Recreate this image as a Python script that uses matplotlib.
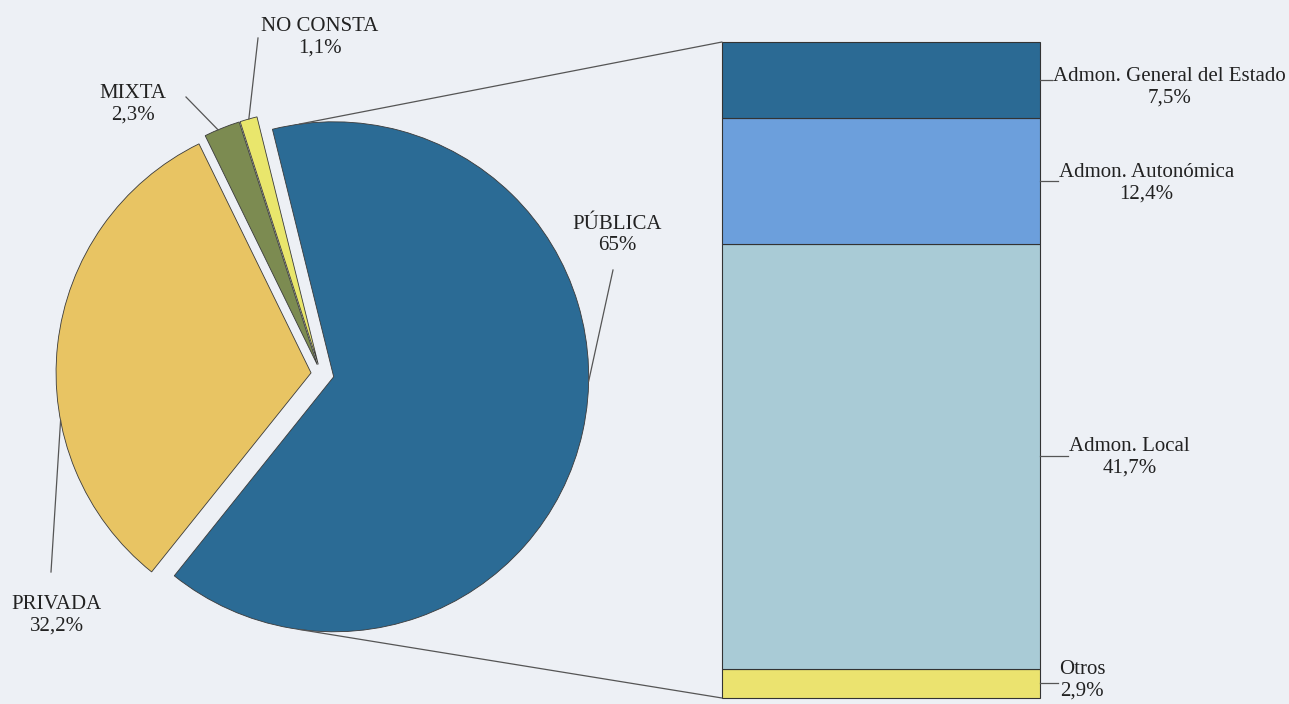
import numpy as np
import matplotlib.pyplot as plt
from matplotlib.patches import ConnectionPatch

plt.rcParams['font.family'] = ['Liberation Serif', 'DejaVu Serif']

# --- Datos: titularidad ---
sectores = ["PÚBLICA", "NO CONSTA", "MIXTA", "PRIVADA"]
pct_sector = [65, 1.1, 2.3, 32.2]
txt_sector = ["65%", "1,1%", "2,3%", "32,2%"]
colores_sector = ["#2b6b95", "#e9e66c", "#7c8b51", "#e8c463"]

# --- Datos: desglose de la pública (de abajo arriba) ---
admon = ["Otros", "Admon. Local", "Admon. Autonómica", "Admon. General del Estado"]
pct_admon = [2.9, 41.7, 12.4, 7.5]
txt_admon = ["2,9%", "41,7%", "12,4%", "7,5%"]
colores_admon = ["#ebe36f", "#a9cbd6", "#6c9fdc", "#2b6a94"]

fondo = "#edf0f5"
gris = "#555555"
W, H = 1289, 704
fs = 15

fig = plt.figure(figsize=(W / 100, H / 100), dpi=100, facecolor=fondo)
ax = fig.add_axes([0, 0, 1, 1])

# --- Tarta (explode en pixeles) ---
explode = [13, 10, 10, 10]
wedges, _ = ax.pie(pct_sector, colors=colores_sector, explode=explode,
                   center=(321, H - 374), radius=255, startangle=-128.7,
                   counterclock=True,
                   wedgeprops=dict(edgecolor="#3a3a3a", linewidth=0.6))
ax.set_xlim(0, W)
ax.set_ylim(0, H)
ax.set_aspect('equal', adjustable='box')
ax.axis('off')

# etiquetas de la tarta (posicion en pixeles, angulo de la guia, fin de la guia)
pos_txt = [(617, 235), (320, 37), (133, 104), (57, 615)]
ang_guia = [-1, 105.8, 112.9, 190.8]
fin_guia = [(613, 270), (258, 38), (186, 97), (51, 572)]
for w, nom, val, (tx, ty), a, (gx, gy) in zip(wedges, sectores, txt_sector,
                                              pos_txt, ang_guia, fin_guia):
    cx, cy = w.center
    px = cx + w.r * np.cos(np.radians(a))
    py = cy + w.r * np.sin(np.radians(a))
    ax.plot([px, gx], [py, H - gy], color=gris, lw=0.9)
    ax.text(tx, H - ty, nom + "\n" + val, ha='center', va='center',
            fontsize=fs, color="#222222", linespacing=1.15)

# --- Barra apilada ---
ax2 = fig.add_axes([722 / W, (H - 698) / H, (1040 - 722) / W, (698 - 42) / H])
total = sum(pct_admon)
base = np.concatenate([[0], np.cumsum(pct_admon)[:-1]])
barras = ax2.bar(0, pct_admon, bottom=base, width=1, color=colores_admon,
                 edgecolor="#333333", linewidth=0.8)
for b in barras:
    b.set_clip_on(False)
ax2.set_xlim(-0.5, 0.5)
ax2.set_ylim(0, total)
ax2.axis('off')

largo_guia = [18, 28, 18, 12]
desp_y = [-3, 1, 2, 7]
for nom, val, b, v, lg, dy in zip(admon, txt_admon, base, pct_admon, largo_guia, desp_y):
    ym = b + v / 2
    ax2.plot([0.5, 0.5 + lg / 318], [ym, ym], color=gris, lw=0.9, clip_on=False)
    ax2.annotate(nom + "\n" + val, xy=(0.5, ym), xytext=(lg + 1, -dy),
                 textcoords='offset pixels', ha='left', va='center',
                 multialignment='center', fontsize=fs, color="#222222",
                 linespacing=1.15, annotation_clip=False)

# --- Lineas de union tarta -> barra ---
wp = wedges[0]
for ang, yb in [(97.8, total), (-97.8, 0)]:
    pt = (wp.center[0] + wp.r * np.cos(np.radians(ang)),
          wp.center[1] + wp.r * np.sin(np.radians(ang)))
    con = ConnectionPatch(xyA=pt, coordsA=ax.transData, xyB=(-0.5, yb),
                          coordsB=ax2.transData, color=gris, lw=0.9)
    fig.add_artist(con)

fig.savefig("out.png", dpi=100, facecolor=fondo)
